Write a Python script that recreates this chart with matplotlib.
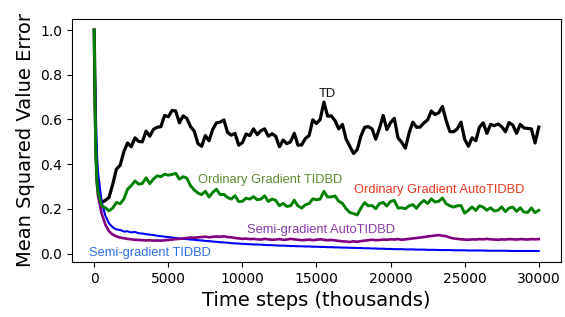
import matplotlib
matplotlib.use("Agg")
import matplotlib.pyplot as plt
import numpy as np

# ---- data ----
head_steps = [0, 50, 100, 150, 200]
steps = np.array(head_steps + list(range(250, 30001, 250)))

td = [1.0, 0.74, 0.52, 0.40, 0.33,
      0.295, 0.228, 0.238, 0.252,
      0.310, 0.378, 0.395, 0.456,
      0.495, 0.478, 0.518, 0.502,
      0.500, 0.548, 0.525, 0.556,
      0.565, 0.568, 0.618, 0.612,
      0.640, 0.638, 0.585, 0.616,
      0.605, 0.568, 0.548, 0.492,
      0.480, 0.528, 0.505, 0.556,
      0.585, 0.588, 0.598, 0.542,
      0.530, 0.538, 0.485, 0.496,
      0.535, 0.528, 0.558, 0.532,
      0.550, 0.558, 0.525, 0.536,
      0.525, 0.478, 0.508, 0.492,
      0.500, 0.538, 0.485, 0.486,
      0.515, 0.528, 0.598, 0.582,
      0.600, 0.678, 0.615, 0.616,
      0.595, 0.558, 0.578, 0.512,
      0.480, 0.448, 0.465, 0.526,
      0.565, 0.568, 0.558, 0.512,
      0.560, 0.618, 0.555, 0.586,
      0.605, 0.518, 0.498, 0.472,
      0.540, 0.588, 0.565, 0.566,
      0.585, 0.598, 0.638, 0.622,
      0.630, 0.658, 0.595, 0.546,
      0.545, 0.558, 0.588, 0.512,
      0.480, 0.518, 0.505, 0.566,
      0.585, 0.538, 0.578, 0.572,
      0.580, 0.568, 0.545, 0.586,
      0.575, 0.538, 0.578, 0.562,
      0.560, 0.558, 0.495, 0.566]

og_tidbd = [1.0, 0.70, 0.48, 0.37, 0.31,
            0.278, 0.214, 0.205, 0.191,
            0.204, 0.229, 0.223, 0.244,
            0.288, 0.304, 0.325, 0.311,
            0.314, 0.339, 0.313, 0.334,
            0.348, 0.344, 0.355, 0.351,
            0.354, 0.359, 0.333, 0.344,
            0.338, 0.304, 0.285, 0.271,
            0.264, 0.279, 0.253, 0.274,
            0.288, 0.264, 0.265, 0.251,
            0.244, 0.259, 0.233, 0.234,
            0.248, 0.244, 0.255, 0.241,
            0.244, 0.259, 0.233, 0.244,
            0.238, 0.214, 0.225, 0.211,
            0.214, 0.239, 0.213, 0.204,
            0.218, 0.224, 0.245, 0.241,
            0.244, 0.279, 0.253, 0.254,
            0.258, 0.234, 0.225, 0.201,
            0.184, 0.179, 0.173, 0.204,
            0.228, 0.214, 0.215, 0.201,
            0.224, 0.229, 0.213, 0.234,
            0.238, 0.204, 0.205, 0.201,
            0.214, 0.219, 0.203, 0.224,
            0.238, 0.224, 0.245, 0.231,
            0.234, 0.249, 0.223, 0.214,
            0.208, 0.214, 0.215, 0.181,
            0.194, 0.209, 0.193, 0.214,
            0.208, 0.194, 0.205, 0.191,
            0.194, 0.209, 0.188, 0.204,
            0.208, 0.189, 0.205, 0.186,
            0.184, 0.204, 0.183, 0.194]

semi_auto = [1.0, 0.70, 0.48, 0.37, 0.30,
             0.26, 0.18, 0.13, 0.10,
             0.085, 0.077, 0.072, 0.069,
             0.066, 0.064, 0.062, 0.061,
             0.060, 0.059, 0.060, 0.058,
             0.059, 0.058, 0.060, 0.061,
             0.063, 0.065, 0.066, 0.068,
             0.070, 0.072, 0.071, 0.073,
             0.074, 0.076, 0.073, 0.075,
             0.077, 0.075, 0.078, 0.074,
             0.073, 0.070, 0.068, 0.066,
             0.067, 0.065, 0.066, 0.064,
             0.063, 0.066, 0.064, 0.062,
             0.063, 0.065, 0.062, 0.063,
             0.066, 0.064, 0.062, 0.060,
             0.061, 0.063, 0.060, 0.062,
             0.064, 0.062, 0.060, 0.061,
             0.059, 0.057, 0.055, 0.054,
             0.052, 0.055, 0.053, 0.056,
             0.058, 0.060, 0.062, 0.060,
             0.061, 0.063, 0.062, 0.064,
             0.063, 0.065, 0.062, 0.064,
             0.066, 0.068, 0.070, 0.072,
             0.074, 0.077, 0.079, 0.081,
             0.083, 0.080, 0.078, 0.072,
             0.068, 0.066, 0.064, 0.063,
             0.062, 0.064, 0.063, 0.065,
             0.064, 0.066, 0.064, 0.063,
             0.062, 0.064, 0.063, 0.065,
             0.064, 0.063, 0.065, 0.064,
             0.063, 0.065, 0.064, 0.065]

semi_tidbd = [1.0, 0.80, 0.63, 0.51, 0.43,
              0.37, 0.23, 0.17, 0.135,
              0.118, 0.108, 0.106, 0.099,
              0.100, 0.095, 0.097, 0.091,
              0.090, 0.087, 0.085, 0.083,
              0.080, 0.078, 0.076, 0.074,
              0.072, 0.070, 0.068, 0.066,
              0.065, 0.063, 0.062, 0.060,
              0.059, 0.057, 0.056, 0.054,
              0.053, 0.051, 0.050, 0.049,
              0.047, 0.046, 0.045, 0.044,
              0.043, 0.042, 0.041, 0.041,
              0.040, 0.039, 0.038, 0.038,
              0.037, 0.036, 0.036, 0.035,
              0.034, 0.034, 0.033, 0.033,
              0.032, 0.032, 0.031, 0.031,
              0.030, 0.030, 0.029, 0.029,
              0.028, 0.028, 0.027, 0.027,
              0.026, 0.026, 0.025, 0.025,
              0.024, 0.024, 0.023, 0.023,
              0.022, 0.022, 0.021, 0.021,
              0.020, 0.020, 0.020, 0.019,
              0.019, 0.019, 0.018, 0.018,
              0.018, 0.017, 0.017, 0.017,
              0.016, 0.016, 0.016, 0.016,
              0.015, 0.015, 0.015, 0.015,
              0.014, 0.014, 0.014, 0.014,
              0.014, 0.013, 0.013, 0.013,
              0.013, 0.013, 0.013, 0.012,
              0.012, 0.012, 0.012, 0.012,
              0.012, 0.012, 0.012, 0.012]

labels = ["TD", "Ordinary Gradient TIDBD", "Ordinary Gradient AutoTIDBD",
          "Semi-gradient AutoTIDBD", "Semi-gradient TIDBD"]
label_x = [15740, 11840, 23270, 15300, 3770]
label_y = [0.716, 0.330, 0.285, 0.107, 0.005]
label_colors = ["#111111", "#5a8a2e", "#e8391d", "#8b3aa8", "#2a6fde"]

# ---- plot ----
fig = plt.figure(figsize=(5.65, 3.17), dpi=100)
ax = fig.add_axes([0.1274, 0.1735, 0.8655, 0.7666])

ax.plot(steps, td, color="black", lw=2.3)
ax.plot(steps, semi_tidbd, color="blue", lw=1.5)
ax.plot(steps, semi_auto, color="purple", lw=1.9)
ax.plot(steps, og_tidbd, color="green", lw=2.1)

for t, x, y, c in zip(labels, label_x, label_y, label_colors):
    ax.text(x, y, t, color=c, fontsize=9.3, family=["Liberation Sans", "DejaVu Sans"],
            ha="center", va="center")

ax.set_xticks([0, 5000, 10000, 15000, 20000, 25000, 30000])
ax.set_yticks([0.0, 0.2, 0.4, 0.6, 0.8, 1.0])
ax.tick_params(labelsize=10)
ax.set_xlabel("Time steps (thousands)", fontsize=14)
ax.set_ylabel("Mean Squared Value Error", fontsize=14)

fig.savefig("out.png", dpi=100)
